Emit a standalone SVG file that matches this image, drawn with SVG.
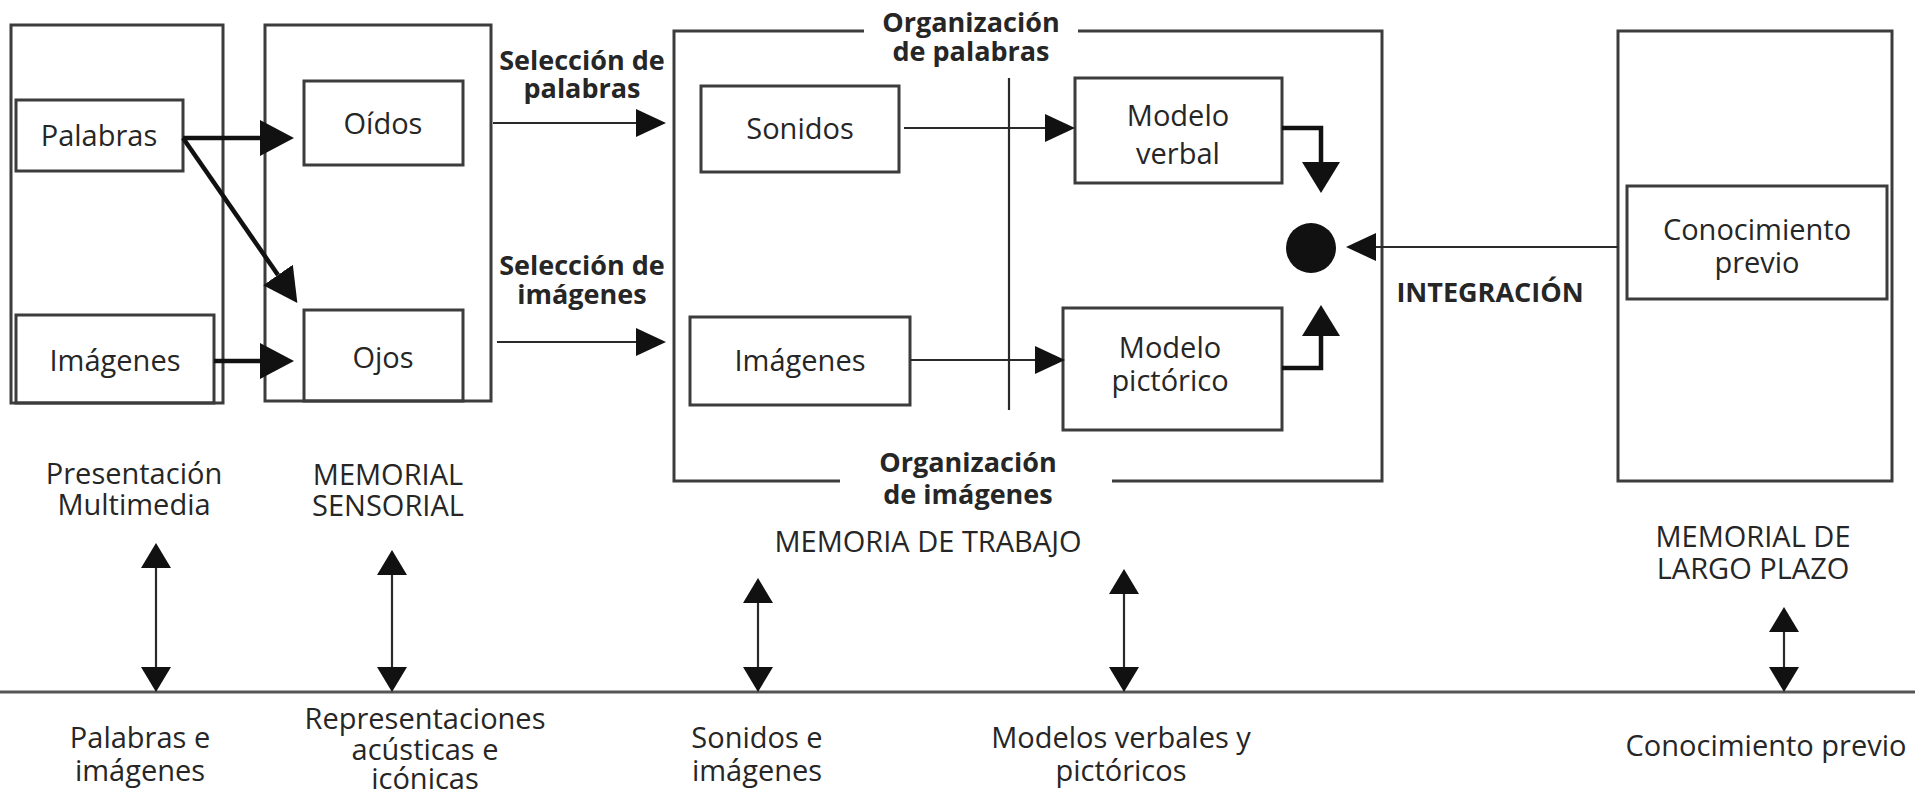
<svg xmlns="http://www.w3.org/2000/svg" width="1915" height="795" viewBox="0 0 1915 795">
<style>
.bx{fill:none;stroke:#3c3c3c;stroke-width:3}
.ln{fill:none;stroke:#2a2a2a;stroke-width:2.2}
.thk{fill:none;stroke:#111;stroke-width:4.5}
text{font-family:"Open Sans","Noto Sans",sans-serif;font-size:29px;font-weight:500;fill:#262626;text-anchor:middle}
.b{font-weight:bold;font-size:27px}
</style>
<defs>
<marker id="hBig" markerUnits="userSpaceOnUse" markerWidth="34" markerHeight="36" viewBox="0 0 34 36" refX="0" refY="18" orient="auto"><path d="M0,0L34,18L0,36z" fill="#111"/></marker>
<marker id="hThin" markerUnits="userSpaceOnUse" markerWidth="30" markerHeight="28" viewBox="0 0 30 28" refX="0" refY="14" orient="auto"><path d="M0,0L30,14L0,28z" fill="#111"/></marker>
<marker id="hElb" markerUnits="userSpaceOnUse" markerWidth="31" markerHeight="38" viewBox="0 0 31 38" refX="0" refY="19" orient="auto"><path d="M0,0L31,19L0,38z" fill="#111"/></marker>
<marker id="hDbl" markerUnits="userSpaceOnUse" markerWidth="25" markerHeight="30" viewBox="0 0 25 30" refX="0" refY="15" orient="auto-start-reverse"><path d="M0,0L25,15L0,30z" fill="#111"/></marker>
</defs>

<g id="presentacion">
<rect class="bx" x="11" y="25" width="212" height="378"/>
<text x="134" y="484">Presentación<tspan x="134" dy="31">Multimedia</tspan></text>
</g>
<g id="palabras">
<rect class="bx" x="16" y="100" width="167" height="71"/>
<text x="99" y="146">Palabras</text>
</g>
<g id="imagenes-in">
<rect class="bx" x="16" y="315" width="198" height="88"/>
<text x="115" y="371">Imágenes</text>
</g>

<g id="sensorial">
<rect class="bx" x="265" y="25" width="226" height="376"/>
<text x="388" y="485">MEMORIAL<tspan x="388" dy="31">SENSORIAL</tspan></text>
</g>
<g id="oidos">
<rect class="bx" x="304" y="81" width="159" height="84"/>
<text x="383" y="134">Oídos</text>
</g>
<g id="ojos">
<rect class="bx" x="304" y="310" width="159" height="91"/>
<text x="383" y="368">Ojos</text>
</g>

<g id="seleccion">
<text class="b" x="582" y="70">Selección de<tspan x="582" dy="28">palabras</tspan></text>
<text class="b" x="582" y="275">Selección de<tspan x="582" dy="29">imágenes</tspan></text>
</g>

<g id="trabajo">
<path class="bx" d="M864,31H674V481H840M1112,481H1382V31H1078"/>
<text class="b" x="971" y="32">Organización<tspan x="971" dy="29">de palabras</tspan></text>
<text class="b" x="968" y="472">Organización<tspan x="968" dy="32">de imágenes</tspan></text>
<text x="928" y="552">MEMORIA DE TRABAJO</text>
</g>
<g id="sonidos">
<rect class="bx" x="701" y="86" width="198" height="86"/>
<text x="800" y="139">Sonidos</text>
</g>
<g id="imagenes-wm">
<rect class="bx" x="690" y="317" width="220" height="88"/>
<text x="800" y="371">Imágenes</text>
</g>
<g id="modelo-verbal">
<rect class="bx" x="1075" y="78" width="207" height="105"/>
<text x="1178" y="126">Modelo<tspan x="1178" dy="38">verbal</tspan></text>
</g>
<g id="modelo-pictorico">
<rect class="bx" x="1063" y="308" width="219" height="122"/>
<text x="1170" y="358">Modelo<tspan x="1170" dy="33">pictórico</tspan></text>
</g>
<g id="integracion-punto">
<circle cx="1311" cy="248" r="25" fill="#111"/>
<text class="b" x="1490" y="302">INTEGRACIÓN</text>
</g>

<g id="largo-plazo">
<rect class="bx" x="1618" y="31" width="274" height="450"/>
<text x="1753" y="547">MEMORIAL DE<tspan x="1753" dy="32">LARGO PLAZO</tspan></text>
</g>
<g id="conocimiento">
<rect class="bx" x="1627" y="186" width="260" height="113"/>
<text x="1757" y="240">Conocimiento<tspan x="1757" dy="33">previo</tspan></text>
</g>

<g id="bottom-labels">
<text x="140" y="748">Palabras e<tspan x="140" dy="33">imágenes</tspan></text>
<text x="425" y="729">Representaciones<tspan x="425" dy="31">acústicas e</tspan><tspan x="425" dy="29">icónicas</tspan></text>
<text x="757" y="748">Sonidos e<tspan x="757" dy="33">imágenes</tspan></text>
<text x="1121" y="748">Modelos verbales y<tspan x="1121" dy="33">pictóricos</tspan></text>
<text x="1766" y="756">Conocimiento previo</text>
</g>

<g id="connectors">
<line class="thk" x1="183" y1="138" x2="260" y2="138" marker-end="url(#hBig)"/>
<line class="thk" x1="183" y1="138" x2="278" y2="275" marker-end="url(#hBig)"/>
<line class="thk" x1="214" y1="361" x2="260" y2="361" marker-end="url(#hBig)"/>
<line class="ln" x1="493" y1="123" x2="636" y2="123" marker-end="url(#hThin)"/>
<line class="ln" x1="497" y1="342" x2="636" y2="342" marker-end="url(#hThin)"/>
<line class="ln" x1="1009" y1="78" x2="1009" y2="410"/>
<line class="ln" x1="904" y1="128" x2="1045" y2="128" marker-end="url(#hThin)"/>
<line class="ln" x1="910" y1="360" x2="1035" y2="360" marker-end="url(#hThin)"/>
<path class="thk" d="M1282,128H1321V162" marker-end="url(#hElb)"/>
<path class="thk" d="M1282,368H1321V336" marker-end="url(#hElb)"/>
<line class="ln" x1="1618" y1="247" x2="1376" y2="247" marker-end="url(#hThin)"/>
<line x1="0" y1="692" x2="1915" y2="692" stroke="#555" stroke-width="3"/>
<line class="ln" x1="156" y1="568" x2="156" y2="667" marker-start="url(#hDbl)" marker-end="url(#hDbl)"/>
<line class="ln" x1="392" y1="575" x2="392" y2="667" marker-start="url(#hDbl)" marker-end="url(#hDbl)"/>
<line class="ln" x1="758" y1="603" x2="758" y2="667" marker-start="url(#hDbl)" marker-end="url(#hDbl)"/>
<line class="ln" x1="1124" y1="594" x2="1124" y2="667" marker-start="url(#hDbl)" marker-end="url(#hDbl)"/>
<line class="ln" x1="1784" y1="632" x2="1784" y2="667" marker-start="url(#hDbl)" marker-end="url(#hDbl)"/>
</g>
</svg>
